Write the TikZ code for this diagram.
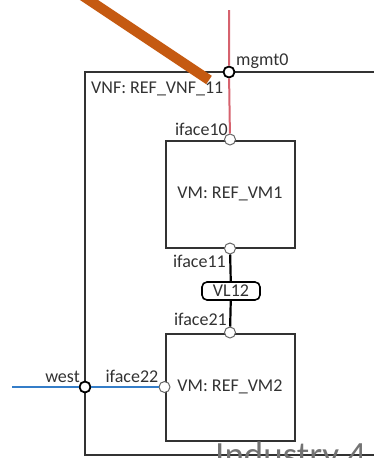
\documentclass[tikz,border=0pt]{standalone}
\usepackage{fontspec}
\setmainfont{Carlito}
\usepackage{xcolor}
\usepackage{tikz}
\usetikzlibrary{positioning}

\definecolor{mgmtred}{RGB}{214,98,110}
\definecolor{westblue}{RGB}{52,125,200}
\definecolor{pointer}{RGB}{197,90,17}
\definecolor{boxgray}{RGB}{50,50,50}

\tikzset{
  lbl/.style={font=\fontsize{18}{21}\selectfont, text=boxgray, inner sep=0pt},
  vmbox/.style={draw=boxgray, line width=2pt, minimum width=129pt,
    minimum height=107pt, inner sep=0pt, lbl},
  vlbox/.style={draw=black, rounded corners=5pt, line width=1.6pt,
    minimum width=58pt, minimum height=18pt, inner sep=0pt, lbl},
  port/.style={circle, draw, fill=white, inner sep=0pt, minimum size=11pt},
  extport/.style={port, draw=black, line width=1.8pt},
  intport/.style={port, draw=black!60, line width=1pt}
}

\begin{document}
\begin{tikzpicture}[x=1pt,y=-1pt]
  \useasboundingbox (0,0) rectangle (374,458);
  \clip (0,0) rectangle (374,458);

  % VNF frame (runs off to the right)
  \coordinate (vnf) at (85,72);
  \draw[boxgray, line width=2pt] (vnf) rectangle (420,455);
  \node[lbl, anchor=base west] (vnflbl) at ([xshift=6pt,yshift=-21pt]vnf) {VNF: REF\_VNF\_11};

  % VMs and virtual link
  \node[vmbox] (vm1) at (230,194) {VM: REF\_VM1};
  \node[vmbox] (vm2) at (230,387) {VM: REF\_VM2};
  \node[vlbox] (vl12) at (231,291) {VL12};

  % ports
  \node[intport] (if10) at (vm1.north) {};
  \node[intport] (if11) at (vm1.south) {};
  \node[intport] (if21) at (vm2.north) {};
  \node[intport] (if22) at (vm2.west) {};
  \node[extport] (mgmt) at (229,72) {};
  \node[extport] (west) at (85,387) {};

  \coordinate (mgmtend) at (229,10);
  \coordinate (westend) at (12,387);

  % connectors
  \draw[mgmtred, line width=2pt] (mgmtend) -- (mgmt) -- (if10);
  \draw[westblue, line width=2.8pt] (westend) -- (west) -- (if22);
  \draw[black, line width=2.2pt] (if11) -- (vl12) -- (if21);

  % port labels
  \node[lbl, anchor=base west] at ([xshift=7pt,yshift=7pt]mgmt.center) {mgmt0};
  \node[lbl, anchor=base east] at ([xshift=-2pt,yshift=4pt]if10.center) {iface10};
  \node[lbl, anchor=base east] at ([xshift=-4pt,yshift=-19pt]if11.center) {iface11};
  \node[lbl, anchor=base east] at ([xshift=-3pt,yshift=7pt]if21.center) {iface21};
  \node[lbl, anchor=base east] at ([xshift=-6pt,yshift=5pt]if22.center) {iface22};
  \node[lbl, anchor=base east] at ([xshift=-5pt,yshift=5pt]west.center) {west};

  % overlay
  \node[anchor=base west, inner sep=0pt, text=black!55,
    font=\fontsize{37}{40}\selectfont] (brand) at (215,467) {Industry 4.0};
  \coordinate (pointfrom) at (80,-6);
  \coordinate (pointto) at (209,80);
  \draw[pointer, line width=10pt] (pointfrom) -- (pointto);
\end{tikzpicture}
\end{document}
